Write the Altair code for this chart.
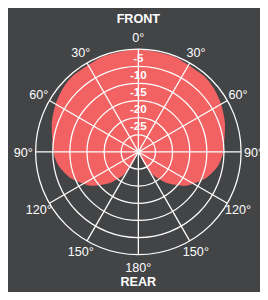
import math
import pandas as pd
import altair as alt

RED = "#f26262"
BG = "#434446"
FONT = "Liberation Sans"

# polar pickup pattern (one half, mirrored): angle in degrees, level in dB
pattern_deg = [0, 20, 40, 50, 60, 72, 90, 100, 111, 125, 137, 146, 153, 160]
pattern_db = [0, -0.3, -0.7, -1.2, -2.1, -3.4, -5.2, -6.4, -8.8, -12.8, -17.5, -21.4, -26.0, -30]

FLOOR_DB = -30  # level at the centre of the plot

ring_db = [0, -5, -10, -15, -20, -25]
ring_label_db = [-5, -10, -15, -20, -25]
ring_label_text = ["-5", "-10", "-15", "-20", "-25"]

spoke_deg = [0, 30, 60, 90, 120, 150, 180, 210, 240, 270, 300, 330]
spoke_text = ["0°", "30°", "60°", "90°", "120°", "150°", "180°",
              "150°", "120°", "90°", "60°", "30°"]

side_text = ["FRONT", "REAR"]
side_deg = [0, 180]
side_r = [38.8, 37.9]

# ---- tables built from the arrays above ----
rows = []
for i, (d, v) in enumerate(zip(pattern_deg, pattern_db)):
    rows.append({"deg": d, "db": v, "side": 1, "ord": d})
    if 0 < i < len(pattern_deg) - 1:
        rows.append({"deg": d, "db": v, "side": -1, "ord": -d})
pattern_df = pd.DataFrame(rows).sort_values("ord")

rings_df = pd.DataFrame({"db": ring_db})
ring_lab_df = pd.DataFrame({"db": ring_label_db, "text": ring_label_text})
spoke_df = pd.DataFrame({"deg": spoke_deg, "text": spoke_text})
side_df = pd.DataFrame({"deg": side_deg, "text": side_text, "r": side_r})

SPAN = -FLOOR_DB  # 30 dB from centre to outer ring
W, H = 260, 284
CX, CY, R = 134.5, 144.0, 106.0
u = R / SPAN
xs = alt.Scale(domain=[-CX / u, (W - CX) / u], nice=False, zero=False)
ys = alt.Scale(domain=[-(H - CY) / u, CY / u], nice=False, zero=False)

X = lambda f: alt.X(f, type="quantitative", scale=xs, axis=None)
Y = lambda f: alt.Y(f, type="quantitative", scale=ys, axis=None)

fill = (
    alt.Chart(pattern_df)
    .transform_calculate(r=f"datum.db + {SPAN}")
    .transform_calculate(x="datum.side * datum.r * sin(datum.deg * PI / 180)")
    .transform_calculate(y="datum.r * cos(datum.deg * PI / 180)")
    .mark_line(interpolate="cardinal-closed", tension=0.35, filled=True, color=RED)
    .encode(x=X("x"), y=Y("y"), order=alt.Order("ord:Q"))
)

spokes = (
    alt.Chart(spoke_df)
    .transform_calculate(x1="0", y1="0")
    .transform_calculate(x2=f"{SPAN} * sin(datum.deg * PI / 180)")
    .transform_calculate(y2=f"{SPAN} * cos(datum.deg * PI / 180)")
    .mark_rule(color="white", strokeWidth=1.3)
    .encode(x=X("x1"), y=Y("y1"), x2="x2:Q", y2="y2:Q")
)

rings = (
    alt.Chart(rings_df)
    .transform_calculate(r=f"datum.db + {SPAN}", x="0", y="0")
    .mark_point(shape="circle", filled=False, color="white", strokeWidth=1.3, opacity=1)
    .encode(
        x=X("x"),
        y=Y("y"),
        size=alt.Size(
            "r:Q",
            scale=alt.Scale(type="pow", exponent=2, domain=[0, SPAN], range=[0, (2 * R) ** 2], zero=True, nice=False),
            legend=None,
        ),
    )
)

ring_labels = (
    alt.Chart(ring_lab_df)
    .transform_calculate(x="0", y=f"datum.db + {SPAN} + 2.5")
    .mark_text(color="white", font=FONT, fontSize=12, fontWeight="bold", baseline="middle")
    .encode(x=X("x"), y=Y("y"), text="text:N")
)

angle_labels = (
    alt.Chart(spoke_df)
    .transform_calculate(x="33.6 * sin(datum.deg * PI / 180)")
    .transform_calculate(y="33.6 * cos(datum.deg * PI / 180)")
    .mark_text(color="white", font=FONT, fontSize=13, baseline="middle", dy=1)
    .encode(x=X("x"), y=Y("y"), text="text:N")
)

side_labels = (
    alt.Chart(side_df)
    .transform_calculate(x="datum.r * sin(datum.deg * PI / 180)")
    .transform_calculate(y="datum.r * cos(datum.deg * PI / 180)")
    .mark_text(color="white", font=FONT, fontSize=13, fontWeight="bold", baseline="middle")
    .encode(x=X("x"), y=Y("y"), text="text:N")
)

chart = (
    alt.layer(fill, spokes, rings, ring_labels, angle_labels, side_labels)
    .properties(width=W, height=H, autosize=alt.AutoSizeParams(type="none"), padding=0)
    .configure(background=BG)
    .configure_view(stroke=None)
)

chart.save("out.html", embed_options={"renderer": "svg", "actions": False})
